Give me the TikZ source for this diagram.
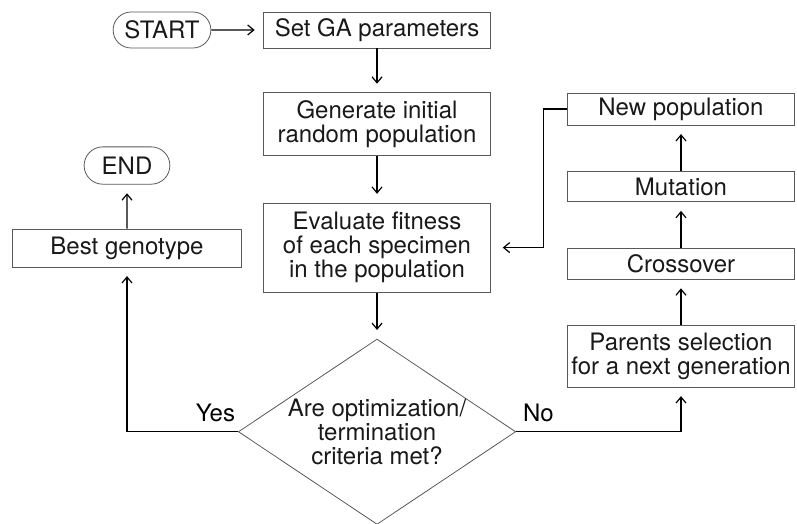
\documentclass[tikz,border=0pt]{standalone}
\usepackage{fontspec}
\setmainfont{TeX Gyre Heros}
\usetikzlibrary{positioning,shapes.geometric,shapes.misc,arrows.meta}

\begin{document}
\begin{tikzpicture}[
				x=0.75pt, y=-0.75pt,
				font=\fontsize{18}{18}\selectfont,
				box/.style={rectangle, draw=black!65, line width=0.6pt, text=black!90, align=center, minimum width=170pt, inner sep=2pt},
				terminal/.style={rounded rectangle, draw=black!65, line width=0.6pt, text=black!90, minimum width=80pt, minimum height=27pt},
				decision/.style={diamond, draw=black!65, line width=0.6pt, text=black!90, align=center, inner sep=-3pt, shape aspect=1.5, minimum width=208pt, minimum height=139pt},
				flow/.style={-{Straight Barb[length=4.5pt,width=7.5pt]}, line width=0.9pt, shorten >=6.5pt},
				]
				\useasboundingbox (0,0) rectangle (797,524);

				%Main column
				\node[terminal]		(start) at (162,30)	{START};
				\node[box, minimum height=27pt]		(set)[right=39pt of start]	{Set GA parameters};
				\node[box, minimum height=47pt]		(gen)[below=33pt of set]	{Generate initial\\random population};
				\node[box, minimum height=67pt]		(eval)[below=35pt of gen]	{Evaluate fitness\\of each specimen\\in the population};
				\node[decision]		(crit)[below=34.5pt of eval]	{Are optimization/\\termination\\criteria met?};

				%Left column
				\node[box, minimum width=172pt, minimum height=28.5pt]		(best) at (127,248)	{Best genotype};
				\node[terminal, minimum width=71pt, minimum height=28pt]		(end)[above=33pt of best]	{END};

				%Right column
				\node[box, minimum height=24pt]		(newpop) at (681,109)	{New population};
				\node[box, minimum height=23pt]		(mut)[below=34pt of newpop]	{Mutation};
				\node[box, minimum height=23pt]		(cross)[below=34.5pt of mut]	{Crossover};
				\node[box, minimum height=46.5pt]		(parents)[below=33.75pt of cross]	{Parents selection\\for a next generation};

				%Labels
				\node[inner sep=2pt, above left=5pt and 0pt of crit.west]		(yes)	{Yes};
				\node[inner sep=2pt, above right=5pt and 3pt of crit.east]		(no)	{No};

				%Lines
				\draw[flow]	(start) -- (set);
				\draw[flow]	(set) -- (gen);
				\draw[flow]	(gen) -- (eval);
				\draw[flow]	(eval) -- (crit);
				\draw[flow]	(crit.west) -| (best.south);
				\draw[flow]	(best) -- (end);
				\draw[flow]	(crit.east) -| (parents.south);
				\draw[flow]	(parents) -- (cross);
				\draw[flow]	(cross) -- (mut);
				\draw[flow]	(mut) -- (newpop);
				\draw[flow, shorten >=9pt]	(newpop.west) -- ++(-18pt,0) |- (eval.east);
			\end{tikzpicture}
\end{document}
